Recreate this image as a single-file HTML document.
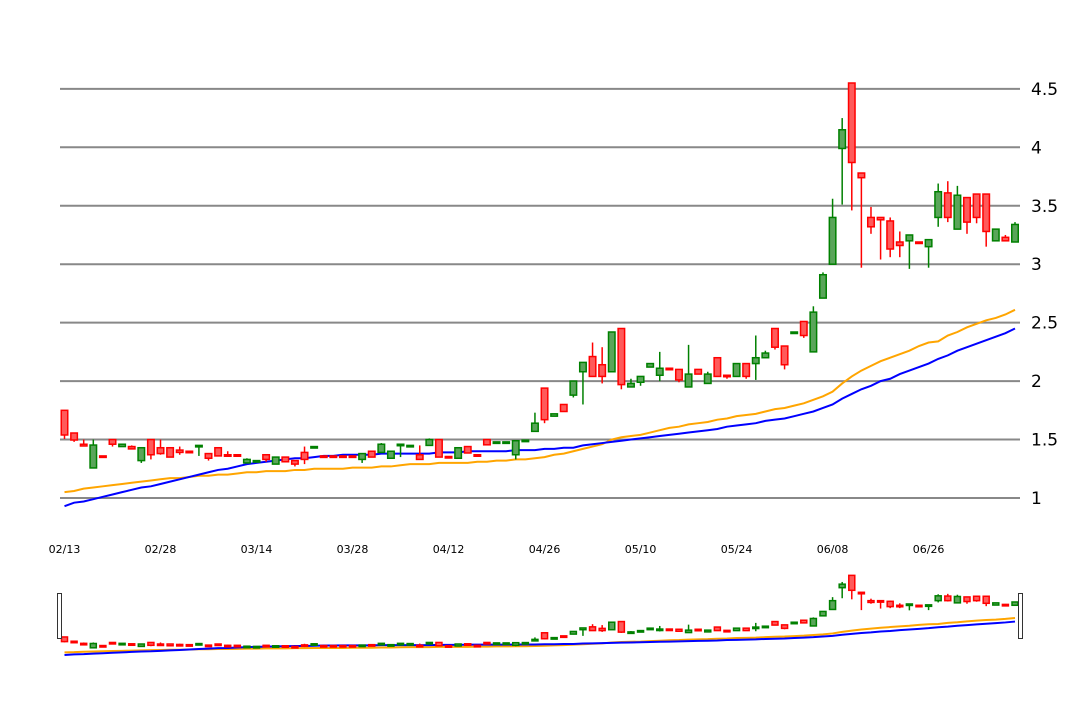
<!DOCTYPE html>
<html><head><meta charset="utf-8"><style>
html,body{margin:0;padding:0;background:#fff;width:1080px;height:720px;overflow:hidden}
svg{display:block;font-family:"DejaVu Sans","Liberation Sans",sans-serif}
</style></head><body>
<svg id="chart" width="1080" height="720" xmlns="http://www.w3.org/2000/svg"></svg>
<script>
const opens=[1.75,1.556,1.46,1.257,1.36,1.50,1.44,1.44,1.32,1.50,1.43,1.43,1.41,1.40,1.44,1.38,1.43,1.37,1.37,1.30,1.31,1.37,1.29,1.35,1.32,1.39,1.43,1.36,1.36,1.36,1.36,1.33,1.40,1.39,1.34,1.45,1.44,1.37,1.45,1.50,1.355,1.34,1.44,1.37,1.50,1.475,1.475,1.37,1.49,1.57,1.94,1.70,1.80,1.88,2.08,2.21,2.14,2.08,2.45,1.95,1.99,2.12,2.05,2.11,2.10,1.95,2.10,1.98,2.20,2.05,2.04,2.15,2.15,2.20,2.45,2.30,2.41,2.51,2.25,2.71,3.00,3.99,4.55,3.78,3.40,3.40,3.37,3.19,3.20,3.19,3.15,3.40,3.61,3.30,3.57,3.60,3.60,3.20,3.23,3.19];
const closes=[1.539,1.496,1.445,1.453,1.35,1.46,1.46,1.42,1.43,1.37,1.38,1.35,1.39,1.39,1.45,1.34,1.36,1.36,1.36,1.33,1.32,1.33,1.35,1.31,1.29,1.33,1.44,1.355,1.35,1.35,1.35,1.38,1.35,1.46,1.40,1.46,1.45,1.33,1.50,1.35,1.35,1.43,1.385,1.365,1.455,1.48,1.48,1.49,1.495,1.64,1.67,1.72,1.74,2.00,2.16,2.04,2.04,2.42,1.97,1.98,2.04,2.15,2.11,2.10,2.01,2.06,2.06,2.06,2.04,2.04,2.15,2.04,2.20,2.24,2.29,2.14,2.42,2.39,2.59,2.91,3.40,4.15,3.87,3.74,3.32,3.38,3.13,3.16,3.25,3.18,3.21,3.62,3.40,3.59,3.36,3.40,3.28,3.30,3.20,3.34];
const highs=[1.753,1.556,1.50,1.50,1.36,1.50,1.46,1.45,1.43,1.50,1.50,1.43,1.44,1.40,1.45,1.38,1.43,1.40,1.37,1.34,1.32,1.37,1.35,1.35,1.32,1.44,1.44,1.36,1.36,1.36,1.36,1.38,1.40,1.47,1.40,1.46,1.45,1.45,1.51,1.50,1.355,1.43,1.44,1.37,1.50,1.48,1.48,1.49,1.495,1.73,1.94,1.72,1.80,2.00,2.16,2.33,2.29,2.42,2.45,2.02,2.04,2.15,2.25,2.11,2.10,2.31,2.10,2.08,2.20,2.05,2.15,2.15,2.39,2.26,2.45,2.30,2.42,2.51,2.64,2.93,3.56,4.25,4.55,3.78,3.49,3.40,3.40,3.28,3.25,3.19,3.21,3.69,3.71,3.67,3.57,3.60,3.60,3.30,3.25,3.36];
const lows=[1.505,1.48,1.445,1.257,1.35,1.44,1.44,1.42,1.30,1.33,1.37,1.35,1.37,1.39,1.36,1.32,1.36,1.36,1.36,1.30,1.31,1.31,1.29,1.31,1.27,1.29,1.43,1.355,1.35,1.35,1.35,1.30,1.35,1.39,1.34,1.35,1.44,1.33,1.45,1.35,1.35,1.34,1.385,1.365,1.455,1.475,1.475,1.33,1.49,1.57,1.64,1.70,1.74,1.86,1.80,2.04,1.98,2.08,1.93,1.95,1.96,2.12,2.00,2.10,1.99,1.95,2.06,1.98,2.04,2.02,2.04,2.02,2.01,2.20,2.27,2.10,2.41,2.37,2.25,2.71,3.00,3.51,3.46,2.97,3.26,3.04,3.06,3.06,2.96,3.18,2.97,3.32,3.36,3.30,3.26,3.35,3.15,3.20,3.20,3.19];
const maBlue=[0.93,0.96,0.97,0.99,1.01,1.03,1.05,1.07,1.09,1.10,1.12,1.14,1.16,1.18,1.20,1.22,1.24,1.25,1.27,1.29,1.30,1.31,1.32,1.33,1.34,1.34,1.35,1.36,1.36,1.37,1.37,1.37,1.37,1.38,1.38,1.38,1.38,1.38,1.38,1.39,1.39,1.39,1.40,1.40,1.40,1.40,1.40,1.41,1.41,1.41,1.42,1.42,1.43,1.43,1.45,1.46,1.47,1.48,1.49,1.50,1.51,1.52,1.53,1.54,1.55,1.56,1.57,1.58,1.59,1.61,1.62,1.63,1.64,1.66,1.67,1.68,1.70,1.72,1.74,1.77,1.80,1.85,1.89,1.93,1.96,2.00,2.02,2.06,2.09,2.12,2.15,2.19,2.22,2.26,2.29,2.32,2.35,2.38,2.41,2.45];
const maOrange=[1.05,1.06,1.08,1.09,1.10,1.11,1.12,1.13,1.14,1.15,1.16,1.17,1.17,1.18,1.19,1.19,1.20,1.20,1.21,1.22,1.22,1.23,1.23,1.23,1.24,1.24,1.25,1.25,1.25,1.25,1.26,1.26,1.26,1.27,1.27,1.28,1.29,1.29,1.29,1.30,1.30,1.30,1.30,1.31,1.31,1.32,1.32,1.33,1.33,1.34,1.35,1.37,1.38,1.40,1.42,1.44,1.46,1.50,1.52,1.53,1.54,1.56,1.58,1.60,1.61,1.63,1.64,1.65,1.67,1.68,1.70,1.71,1.72,1.74,1.76,1.77,1.79,1.81,1.84,1.87,1.91,1.98,2.04,2.09,2.13,2.17,2.20,2.23,2.26,2.30,2.33,2.34,2.39,2.42,2.46,2.49,2.52,2.54,2.57,2.61];
const yTicks=[1,1.5,2,2.5,3,3.5,4,4.5];
const yTickLabels=["1","1.5","2","2.5","3","3.5","4","4.5"];
const dateLabels=["02/13","02/28","03/14","03/28","04/12","04/26","05/10","05/24","06/08","06/26"];
const dateIdx=[0,10,20,30,40,50,60,70,80,90];

const svg=document.getElementById('chart');
const NS='http://www.w3.org/2000/svg';
function mk(tag,attrs,parent){const e=document.createElementNS(NS,tag);for(const k in attrs)e.setAttribute(k,attrs[k]);(parent||svg).appendChild(e);return e;}
const N=opens.length;
const xs=i=>64.5+i*(950.5/(N-1));
const ys=v=>498-(v-1)*116.9;
const yn=v=>655-(v-0.93)*22;

const grid=mk('g',{});


yTicks.forEach((t,k)=>{
  const l=mk('line',{x1:60,x2:1020,y1:ys(t),y2:ys(t),stroke:'#888',"stroke-width":2},grid);
  
  
  const tx=mk('text',{x:1031,y:ys(t)+6,"font-size":17,fill:'#000'});
  tx.textContent=yTickLabels[k];
  
  
});
dateLabels.forEach((d,k)=>{
  const tx=mk('text',{x:xs(dateIdx[k]),y:553,"font-size":11,"text-anchor":"middle",fill:'#000'});
  tx.textContent=d;
  
  
});

function candles(yf,w,g,nav){
  for(let i=0;i<N;i++){
    const up=closes[i]>=opens[i];
    const c=up?'#008000':'#ff0000';
    const fill=up?'#5aa55a':'#ff5a5a';
    const x=xs(i);
    const cg=mk('g',{},g);
    
    
    mk('line',{x1:x,x2:x,y1:yf(highs[i]),y2:yf(lows[i]),stroke:c,"stroke-width":1.5},cg);
    const t=yf(Math.max(opens[i],closes[i])),b=yf(Math.min(opens[i],closes[i]));
    mk('rect',{x:x-w/2,y:t,width:w,height:Math.max(b-t,1.5),fill:fill,stroke:c,"stroke-width":1.5},cg);
  }
}
function maLine(arr,yf,color,name,g,sw){
  const p=mk('polyline',{points:arr.map((v,i)=>xs(i)+','+yf(v)).join(' '),fill:'none',stroke:color,"stroke-width":sw},g);
  
  
}
const main=mk('g',{});


maLine(maOrange,ys,'orange','ma-orange-line',main,2);
maLine(maBlue,ys,'#0000ff','ma-blue-line',main,2);
candles(ys,6.5,main,false);

const nav=mk('g',{});


maLine(maOrange,yn,'orange','nav-ma-orange',nav,2);
maLine(maBlue,yn,'#0000ff','nav-ma-blue',nav,2);
candles(yn,6,nav,true);
const h1=mk('rect',{x:57.5,y:593.5,width:4,height:45,fill:'#fff',stroke:'#333',"stroke-width":1});


const h2=mk('rect',{x:1018.5,y:593.5,width:4,height:45,fill:'#fff',stroke:'#333',"stroke-width":1});


</script>
</body></html>
